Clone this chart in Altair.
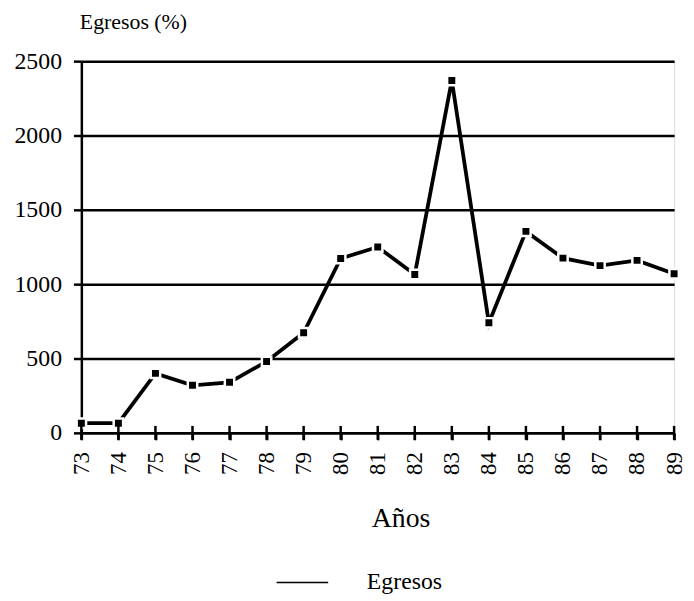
import altair as alt
import pandas as pd

years = list(range(73, 90))
egresos = [65, 65, 400, 320, 340, 480, 673, 1173, 1250, 1065, 2370, 740, 1355, 1175, 1125, 1160, 1070]
series = ["Egresos"] * len(years)
y_ticks = [0, 500, 1000, 1500, 2000, 2500]

df = pd.DataFrame({"year": years, "value": egresos, "serie": series})
ticks_df = pd.DataFrame({"year": years, "value": [0] * len(years)})

FONT = "Liberation Serif"

x_enc = alt.X(
    "year:Q",
    scale=alt.Scale(domain=[73, 89], nice=False, zero=False),
    axis=alt.Axis(
        values=years, format="d", labelAngle=270, labelAlign="right", labelBaseline="middle",
        labelFontSize=23, labelFont=FONT, labelColor="black", labelPadding=12,
        labelOverlap=False, labelBound=False,
        tickSize=7, tickWidth=2.5, tickColor="black",
        domainColor="black", domainWidth=2.5, grid=False,
        title="Años", titleFont=FONT, titleFontSize=28, titleFontWeight="normal",
        titleColor="black", titleBaseline="middle", titleAlign="center",
        titleX=322, titleY=86,
    ),
)
y_enc = alt.Y(
    "value:Q",
    scale=alt.Scale(domain=[0, 2500], nice=False),
    axis=alt.Axis(
        values=y_ticks, format="d", labelFontSize=24, labelFont=FONT, labelColor="black",
        labelPadding=12, labelOverlap=False,
        tickSize=8, tickWidth=2.5, tickColor="black",
        domainColor="black", domainWidth=2.5,
        grid=True, gridColor="black", gridWidth=2.5, gridOpacity=1,
        title="Egresos (%)", titleAngle=0, titleAlign="left", titleBaseline="alphabetic",
        titleX=-2, titleY=-33, titleFont=FONT, titleFontSize=22,
        titleFontWeight="normal", titleColor="black",
    ),
)

line = alt.Chart(df).mark_line(strokeWidth=3.8).encode(
    x=x_enc,
    y=y_enc,
    color=alt.Color(
        "serie:N",
        scale=alt.Scale(range=["black"]),
        legend=alt.Legend(
            title=None, orient="none", legendX=196, legendY=499,
            symbolType="stroke", symbolSize=2704, symbolStrokeWidth=1.5,
            symbolStrokeColor="black",
            labelFont=FONT, labelFontSize=24, labelColor="black", labelOffset=38,
        ),
    ),
)

points = alt.Chart(df).mark_point(
    shape="square", filled=True, fill="black", stroke="white", strokeWidth=2.5, size=90, opacity=1
).encode(x=x_enc, y=y_enc)

xticks = alt.Chart(ticks_df).mark_tick(
    orient="vertical", size=14, thickness=2.5, color="black", opacity=1
).encode(x=x_enc, y=y_enc)

chart = alt.layer(line, points, xticks).properties(
    width=598, height=375,
    autosize=alt.AutoSizeParams(type="none"),
    padding={"left": 74, "top": 51, "right": 12, "bottom": 166},
).configure_view(stroke=None).configure(background="white", font=FONT).configure_axis(
    labelFont=FONT, titleFont=FONT
).configure_legend(labelFont=FONT)

chart.save("out.html", embed_options={"renderer": "svg", "actions": False})
